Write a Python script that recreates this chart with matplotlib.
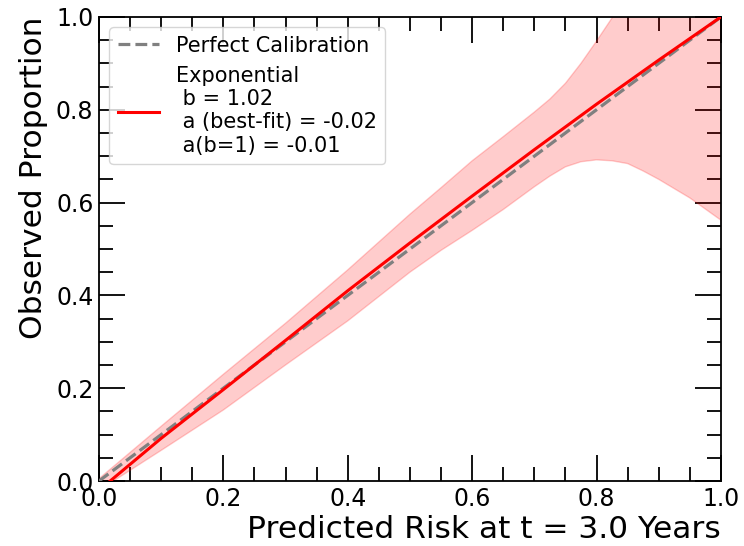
import numpy as np
import matplotlib
matplotlib.use("Agg")
import matplotlib.pyplot as plt
from matplotlib.ticker import MultipleLocator

# fitted calibration curve
fit_x = [0.018, 0.1, 0.2, 0.3, 0.4, 0.5, 0.6, 0.7, 0.8, 0.9, 1.0]
fit_y = [0.0, 0.092, 0.197, 0.303, 0.41, 0.513, 0.614, 0.714, 0.812, 0.907, 1.0]

# confidence band
band_x = [0.0, 0.1, 0.2, 0.3, 0.4, 0.5, 0.55, 0.6, 0.65, 0.7, 0.725, 0.75, 0.775, 0.8,
          0.825, 0.85, 0.875, 0.9, 0.95, 1.0]
band_lo = [-0.02, 0.066, 0.153, 0.25, 0.345, 0.45, 0.497, 0.54, 0.585, 0.634, 0.657, 0.677,
           0.688, 0.692, 0.69, 0.684, 0.668, 0.65, 0.61, 0.562]
band_hi = [0.005, 0.118, 0.23, 0.34, 0.455, 0.575, 0.632, 0.69, 0.742, 0.795, 0.823, 0.857,
           0.9, 0.948, 0.998, 1.05, 1.1, 1.16, 1.28, 1.4]

fit_label = "Exponential\n b = 1.02\n a (best-fit) = -0.02\n a(b=1) = -0.01"

fig = plt.figure(figsize=(7.44, 5.46), dpi=100)
ax = fig.add_axes([0.133, 0.119, 0.836, 0.850])

ax.plot([0, 1], [0, 1], linestyle="--", color="gray", linewidth=2.3, label="Perfect Calibration", zorder=3)
ax.plot(fit_x, fit_y, color="red", linewidth=2.2, label=fit_label, zorder=4)
ax.fill_between(band_x, band_lo, band_hi, color="red", alpha=0.2, zorder=2)

ax.set_xlim(0, 1)
ax.set_ylim(0, 1)
ax.xaxis.set_major_locator(MultipleLocator(0.2))
ax.yaxis.set_major_locator(MultipleLocator(0.2))
ax.xaxis.set_minor_locator(MultipleLocator(0.05))
ax.yaxis.set_minor_locator(MultipleLocator(0.05))
ax.tick_params(which="both", direction="in", top=True, right=True, width=1.3, labelsize=17, pad=4)
ax.tick_params(which="major", length=19)
ax.tick_params(which="minor", length=10)
for s in ax.spines.values():
    s.set_linewidth(1.3)

ax.set_xlabel("Predicted Risk at t = 3.0 Years", fontsize=22.5, loc="right", labelpad=3)
ax.set_ylabel("Observed Proportion", fontsize=22.5, loc="top", labelpad=6)

ax.legend(loc="upper left", fontsize=15, handlelength=2.0, borderaxespad=0.5)

fig.savefig("out.png", dpi=100)
